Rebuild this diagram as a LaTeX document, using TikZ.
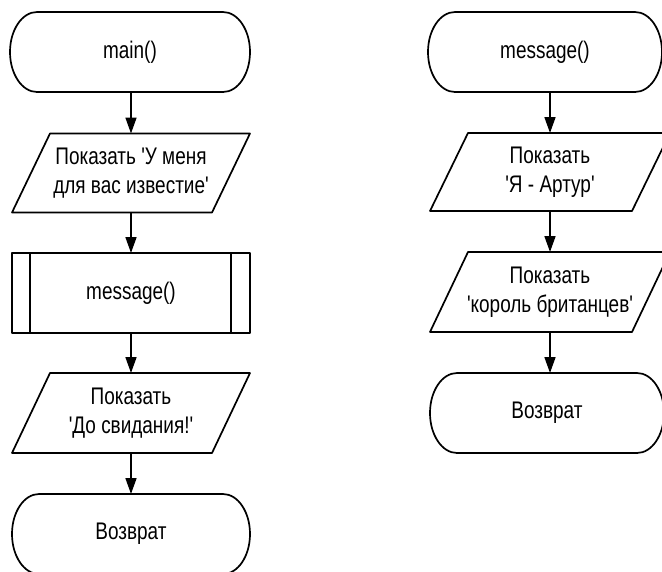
\documentclass[tikz,border=0pt]{standalone}
\usepackage{fontspec}
\setmainfont{Liberation Sans}[FakeStretch=0.79, Ligatures=TeXOff]
\usetikzlibrary{arrows.meta}
\begin{document}
\begin{tikzpicture}[x=1pt,y=-1pt,
  blk/.style={inner sep=0pt, outer sep=0pt, align=center,
    font=\fontsize{24}{28.5}\selectfont},
  shp/.style={line width=1.7pt, line join=round},
  arr/.style={line width=1.7pt, -{Triangle[length=16pt,width=11pt]}}]
\useasboundingbox (0,0) rectangle (662,571);
\clip (0,0) rectangle (662,571);

% ---------- left column ----------
\node[blk, minimum width=240pt, minimum height=80pt] (main) at (130,52) {main()};
\node[blk, minimum width=238pt, minimum height=79pt] (p1) at (131,173) {Показать 'У меня\\для вас известие'};
\node[blk, minimum width=238pt, minimum height=80pt] (pre) at (131,293) {message()};
\node[blk, minimum width=238pt, minimum height=80pt] (p2) at (131,413) {Показать\\'До свидания!'};
\node[blk, minimum width=238pt, minimum height=80pt] (r1) at (131,534) {Возврат};

% ---------- right column ----------
\node[blk, minimum width=234pt, minimum height=80pt] (msg) at (545,52) {message()};
\node[blk, minimum width=240pt, minimum height=78pt] (p3) at (550,172) {Показать\\'Я - Артур'};
\node[blk, minimum width=240pt, minimum height=80pt] (p4) at (550,292) {Показать\\'король британцев'};
\node[blk, minimum width=234pt, minimum height=80pt] (r2) at (547,413) {Возврат};

% terminals
\foreach \n in {main,r1,msg,r2}{
  \draw[shp] ([xshift=27pt]\n.north west) -- ([xshift=-27pt]\n.north east)
    arc[start angle=90,end angle=-90,x radius=27pt,y radius=40pt]
    -- ([xshift=27pt]\n.south west)
    arc[start angle=270,end angle=90,x radius=27pt,y radius=40pt] -- cycle;
}
% parallelograms
\foreach \n in {p1,p2,p3,p4}{
  \draw[shp] ([xshift=38pt]\n.north west) -- (\n.north east)
    -- ([xshift=-38pt]\n.south east) -- (\n.south west) -- cycle;
}
% predefined process
\draw[shp] (pre.north west) rectangle (pre.south east);
\draw[shp] ([xshift=18pt]pre.north west) -- ([xshift=18pt]pre.south west);
\draw[shp] ([xshift=-19pt]pre.north east) -- ([xshift=-19pt]pre.south east);

% connectors
\draw[arr] (p1.north |- main.south) -- (p1.north);
\draw[arr] (p1.south) -- (pre.north);
\draw[arr] (pre.south) -- (p2.north);
\draw[arr] (p2.south) -- (r1.north);

\draw[arr] (p3.north |- msg.south) -- (p3.north);
\draw[arr] (p3.south) -- (p4.north);
\draw[arr] (p4.south) -- (p4.south |- r2.north);
\end{tikzpicture}
\end{document}
